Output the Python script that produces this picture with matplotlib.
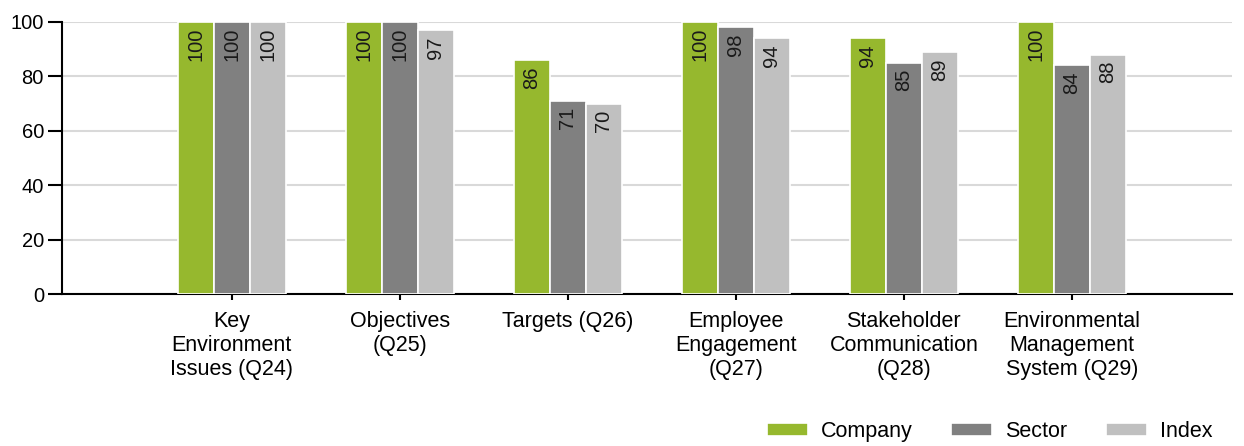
import numpy as np
import matplotlib.pyplot as plt

plt.rcParams['font.family'] = ['Liberation Sans', 'DejaVu Sans']

categories = ['Key\nEnvironment\nIssues (Q24)', 'Objectives\n(Q25)', 'Targets (Q26)',
              'Employee\nEngagement\n(Q27)', 'Stakeholder\nCommunication\n(Q28)',
              'Environmental\nManagement\nSystem (Q29)']
company = [100, 100, 86, 100, 94, 100]
sector = [100, 100, 71, 98, 85, 84]
index = [100, 97, 70, 94, 89, 88]
series_names = ['Company', 'Sector', 'Index']
colors = ['#96B82E', '#808080', '#C0C0C0']

fig = plt.figure(figsize=(12.44, 4.46), dpi=100)
ax = fig.add_axes([0.0498, 0.340, 0.9402, 0.611])

x = np.arange(len(categories))
w = 0.214
bars = []
for i, (vals, name, c) in enumerate(zip([company, sector, index], series_names, colors)):
    b = ax.bar(x + (i - 1) * w, vals, w, color=c, edgecolor='white', linewidth=1.2,
               label=name, zorder=3)
    bars.append(b)
    for rect, v in zip(b, vals):
        ax.annotate(str(v), (rect.get_x() + rect.get_width() / 2, v),
                    xytext=(0, -4.5), textcoords='offset points',
                    rotation=90, ha='center', va='top', fontsize=14.5,
                    color='#1a1a1a', zorder=4)

ax.set_ylim(0, 100)
ax.set_xlim(-1.01, 5.95)
ax.set_yticks(range(0, 101, 20))
ax.set_xticks(x)
ax.set_xticklabels(categories, fontsize=15.5, linespacing=1.2)
ax.tick_params(axis='y', labelsize=14.5, length=10, width=1.5, pad=3)
ax.tick_params(axis='x', length=4, width=1.5, pad=8)
ax.yaxis.grid(True, color='#d9d9d9', linewidth=1.5, zorder=0)
ax.set_axisbelow(True)
for s in ['top', 'right']:
    ax.spines[s].set_visible(False)
for s in ['left', 'bottom']:
    ax.spines[s].set_linewidth(1.5)

fig.legend(handles=bars, labels=series_names, loc='lower right', ncol=3,
           bbox_to_anchor=(0.99, -0.035), frameon=False, fontsize=15.5,
           handlelength=1.9, handleheight=0.6, columnspacing=1.8, handletextpad=0.6)

fig.savefig('out.png', dpi=100)
